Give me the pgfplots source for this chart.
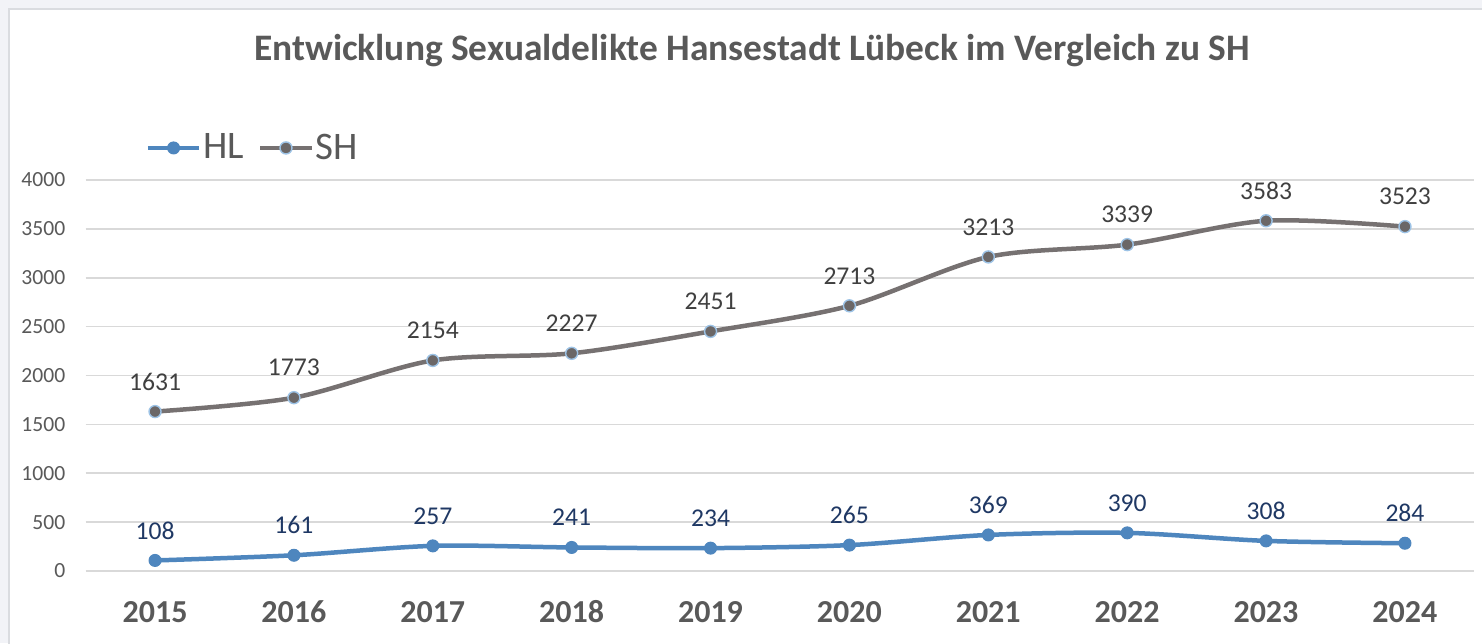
\documentclass[border=0pt]{standalone}
\usepackage{fontspec}
\setmainfont{Carlito}
\usepackage{pgfplots}
\pgfplotsset{compat=1.18}
\definecolor{hlblue}{HTML}{4E86BE}
\definecolor{hlnavy}{HTML}{1F3864}
\definecolor{shgray}{HTML}{767171}
\definecolor{shmark}{HTML}{6B6767}
\definecolor{shedge}{HTML}{9DC3E6}
\definecolor{txtgray}{HTML}{595959}
\definecolor{lblgray}{HTML}{404040}
\definecolor{gridc}{HTML}{D9D9D9}
\definecolor{bgout}{HTML}{F2F3F7}
\definecolor{framec}{HTML}{DADCE0}
\begin{document}
\begin{tikzpicture}
\useasboundingbox (0,0) rectangle (741pt,321.5pt);
\fill[bgout] (0,0) rectangle (741pt,321.5pt);
\filldraw[fill=white, draw=framec, line width=0.6pt] (4.5pt,-2pt) rectangle (745pt,317pt);
\node[font=\fontsize{18.7}{22}\selectfont\bfseries, text=txtgray] at (376pt,296pt) {Entwicklung Sexualdelikte Hansestadt Lübeck im Vergleich zu SH};
\begin{axis}[
  at={(42.8pt,36pt)}, anchor=south west,
  scale only axis, width=694.4pt, height=195.5pt,
  xmin=2014.5, xmax=2024.5, ymin=0, ymax=4000,
  xtick={2015,...,2024}, ytick={0,500,...,4000},
  clip=false,
  axis line style={draw=none},
  major tick length=0pt,
  ymajorgrids, grid style={gridc, line width=0.8pt},
  /pgf/number format/assume math mode=true,
  /pgf/number format/1000 sep={},
  xticklabel style={anchor=center, yshift=-20.5pt, font=\fontsize{16}{19}\selectfont\bfseries, text=txtgray},
  yticklabel style={anchor=east, inner sep=0pt, xshift=-10pt, font=\fontsize{10.8}{12}\selectfont, text=txtgray},
  nodes near coords,
  point meta=explicit symbolic,
  legend columns=2,
  legend style={at={(rel axis cs:0.043,1.082)}, anchor=west, draw=none, fill=none,
    font=\fontsize{19.5}{22}\selectfont, text=txtgray, inner sep=0pt,
    /tikz/every even column/.append style={column sep=6pt},
    nodes={inner xsep=1pt}},
  legend image code/.code={\draw[mark repeat=2,mark phase=2] plot coordinates {(0cm,0cm)(0.45cm,0cm)(0.9cm,0cm)};},
]
\addplot[smooth, hlblue, line width=2.25pt, mark=*, mark size=3pt, mark options={fill=hlblue, draw=hlblue, line width=0.5pt},
  nodes near coords style={anchor=center, yshift=15pt, font=\fontsize{12.8}{14}\selectfont, text=hlnavy}]
  coordinates {(2015,108)[108] (2016,161)[161] (2017,257)[257] (2018,241)[241] (2019,234)[234]
               (2020,265)[265] (2021,369)[369] (2022,390)[390] (2023,308)[308] (2024,284)[284]};
\addlegendentry{HL}
\addplot[smooth, shgray, line width=2.25pt, mark=*, mark size=3pt, mark options={fill=shmark, draw=shedge, line width=0.7pt},
  nodes near coords style={anchor=center, yshift=15pt, font=\fontsize{12.8}{14}\selectfont, text=lblgray}]
  coordinates {(2015,1631)[1631] (2016,1773)[1773] (2017,2154)[2154] (2018,2227)[2227] (2019,2451)[2451]
               (2020,2713)[2713] (2021,3213)[3213] (2022,3339)[3339] (2023,3583)[3583] (2024,3523)[3523]};
\addlegendentry{SH}
\end{axis}
\end{tikzpicture}
\end{document}
